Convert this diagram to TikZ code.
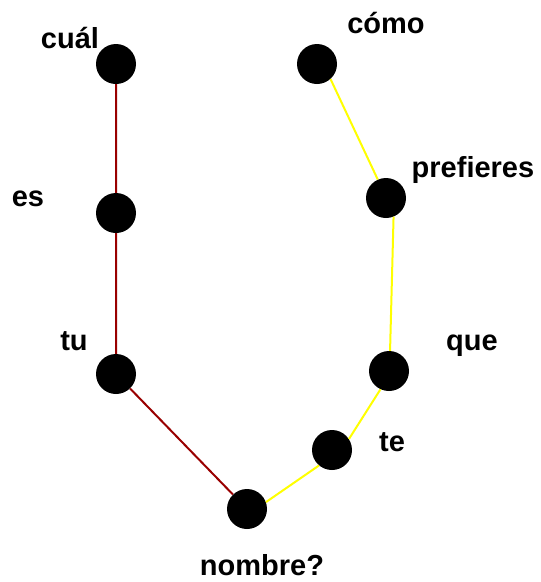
\documentclass[tikz,border=0pt]{standalone}
\usepackage{fontspec}
\setmainfont{Liberation Sans}
\definecolor{rojo}{RGB}{153,0,0}
\definecolor{amarillo}{RGB}{255,255,0}
\tikzset{
  palabra/.style={anchor=base,inner sep=0pt,font=\fontsize{29}{30}\selectfont\bfseries},
  punto/.style={circle,fill=black,minimum size=40pt,inner sep=0pt}
}
\begin{document}
\begin{tikzpicture}[x=1pt,y=-1pt]
\useasboundingbox (0,0) rectangle (541,582);
\node[punto] (cual) at (116,64) {};
\node[punto] (es) at (116,213) {};
\node[punto] (tu) at (116,374) {};
\node[punto] (nombre) at (247,509) {};
\node[punto] (te) at (332,450) {};
\node[punto] (que) at (389,371) {};
\node[punto] (prefieres) at (386,198) {};
\node[punto] (como) at (317,64) {};

\draw[rojo,line width=2pt] (cual)--(es)--(tu)--(nombre);
\draw[amarillo,line width=2pt] (como.-48)--(prefieres.114);
\draw[amarillo,line width=2pt] (prefieres.-68)--(que.87);
\draw[amarillo,line width=2pt] (que.-115)--(te.33);
\draw[amarillo,line width=2pt] (te.-130)--(nombre.20);

\node[palabra] (lcual) at (70,48) {cuál};
\node[palabra] (les) at (28,206) {es};
\node[palabra] (ltu) at (74,350) {tu};
\node[palabra] (lnombre) at (262,575) {nombre?};
\node[palabra] (lte) at (392,451) {te};
\node[palabra] (lque) at (472,350) {que};
\node[palabra] (lprefieres) at (473,177) {prefieres};
\node[palabra] (lcomo) at (386,33) {cómo};
\end{tikzpicture}
\end{document}
